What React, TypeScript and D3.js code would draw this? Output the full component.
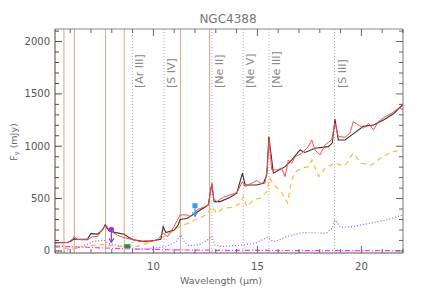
import React from 'react';
import * as d3 from 'd3';

const W = 436;
const H = 291;
const margin = { top: 29, right: 33, bottom: 38, left: 55 };

// model fit (black)
const modelWave = [5.27, 5.87, 6.05, 6.19, 6.4, 6.83, 6.99, 7.31, 7.55, 7.68, 7.87, 8.2, 8.59, 8.8, 9.07, 9.55, 10.03, 10.36, 10.47, 10.6, 11.0, 11.2, 11.28, 11.61, 12.0, 12.4, 12.64, 12.81, 12.92, 13.21, 13.69, 14.01, 14.28, 14.41, 14.97, 15.29, 15.45, 15.55, 15.77, 16.33, 16.65, 17.05, 17.29, 17.77, 18.41, 18.6, 18.73, 18.89, 19.21, 19.62, 20.1, 20.58, 21.06, 21.54, 22.0];
const modelFlux = [80, 80, 95, 115, 112, 112, 165, 160, 200, 248, 190, 175, 160, 130, 105, 89, 100, 112, 232, 175, 200, 250, 300, 309, 360, 408, 440, 640, 471, 471, 513, 551, 742, 630, 630, 647, 726, 1092, 742, 805, 869, 965, 940, 980, 996, 1030, 1260, 1060, 1060, 1120, 1190, 1203, 1250, 1310, 1400];

// observed spectrum (red)
const obsWave = [5.27, 5.87, 6.1, 6.19, 6.35, 6.83, 7.07, 7.31, 7.63, 7.76, 7.87, 8.27, 8.59, 9.07, 9.39, 9.63, 9.87, 10.19, 10.47, 10.68, 10.85, 11.0, 11.28, 11.61, 11.77, 11.93, 12.09, 12.4, 12.64, 12.81, 12.89, 13.05, 13.37, 13.69, 14.01, 14.28, 14.41, 14.97, 15.13, 15.37, 15.48, 15.56, 15.69, 15.93, 16.17, 16.33, 16.49, 16.65, 16.81, 17.13, 17.45, 17.61, 17.77, 18.01, 18.25, 18.57, 18.73, 18.89, 19.21, 19.45, 19.61, 19.85, 20.1, 20.34, 20.58, 20.82, 21.14, 21.46, 21.78, 22.0];
const obsFlux = [74, 80, 110, 137, 108, 105, 137, 137, 232, 239, 200, 150, 127, 105, 89, 98, 89, 105, 169, 137, 190, 235, 344, 344, 328, 344, 392, 417, 439, 647, 503, 471, 513, 535, 557, 662, 615, 672, 647, 647, 800, 1060, 774, 774, 790, 710, 869, 837, 900, 930, 1000, 1060, 965, 917, 1012, 1060, 1220, 1092, 1086, 1124, 1235, 1203, 1172, 1220, 1156, 1235, 1283, 1315, 1363, 1353];

// dust continuum (orange dashed)
const contWave = [5.27, 5.6, 6.0, 6.5, 7.0, 7.5, 8.0, 8.5, 9.0, 9.5, 10.0, 10.5, 10.8, 11.1, 11.4, 11.7, 12.0, 12.4, 12.65, 12.81, 13.05, 13.37, 13.85, 14.17, 14.33, 14.49, 14.81, 15.13, 15.45, 15.61, 15.77, 16.09, 16.45, 16.65, 16.85, 17.1, 17.45, 17.62, 17.95, 18.25, 18.7, 19.2, 19.6, 20.0, 20.5, 21.0, 21.5, 22.0];
const contFlux = [35, 28, 18, 30, 50, 62, 48, 40, 35, 60, 95, 135, 170, 215, 245, 265, 298, 330, 375, 423, 360, 408, 417, 455, 520, 423, 487, 503, 567, 694, 630, 583, 460, 678, 757, 790, 805, 869, 710, 790, 837, 812, 933, 837, 821, 900, 949, 965];

// PAH component (blue dotted)
const pahWave = [5.27, 5.8, 6.2, 6.6, 7.1, 7.6, 7.85, 8.2, 8.8, 9.3, 10.0, 10.6, 11.1, 11.33, 11.5, 11.7, 12.2, 12.6, 12.8, 12.95, 13.3, 13.8, 14.3, 14.9, 15.5, 15.75, 16.0, 16.4, 17.2, 18.3, 18.6, 18.72, 19.0, 19.6, 20.4, 21.2, 22.0];
const pahFlux = [-15, 0, 20, 45, 89, 105, 70, 57, 35, 16, 26, 41, 89, 153, 80, 50, 57, 105, 143, 57, 41, 48, 57, 74, 131, 89, 100, 137, 175, 169, 217, 296, 226, 232, 264, 296, 344];

// stellar component (magenta dash-dot)
const starWave = [5.27, 6, 7, 8, 9, 10, 11, 12, 13, 14, 16, 18, 20, 22];
const starFlux = [45, 40, 33, 25, 18, 14, 10, 8, 6, 5, 4, 3, 2, 2];

const pahLines = [5.7, 6.2, 7.7, 8.6, 11.3, 12.7];
const ionLines = [8.99, 10.51, 12.81, 14.32, 15.56, 18.71];
const ionLabels = ['[Ar III]', '[S IV]', '[Ne II]', '[Ne V]', '[Ne III]', '[S III]'];

// photometry: value with a bar down to the lower value
const photWave = [7.98, 8.75, 12.0];
const photFlux = [205, 45, 432];
const photLow = [82, 45, 330];
const photColor = ['#9933ee', '#229922', '#3399ff'];

const xTicksMajor = [10, 15, 20];
const yTicksMajor = [0, 500, 1000, 1500, 2000];

export default function App() {
  const x = d3.scaleLinear().domain([5.27, 22.0]).range([margin.left, W - margin.right]);
  const y = d3.scaleLinear().domain([-20, 2120]).range([H - margin.bottom, margin.top]);
  const x0 = margin.left, x1 = W - margin.right, y0 = H - margin.bottom, y1 = margin.top;

  const line = (ws: number[], fs: number[]) =>
    d3.line<number>().x((d, i) => x(ws[i])).y(d => y(d))(fs) || '';

  const xMinor = d3.range(6, 23, 1);
  const yMinor = d3.range(0, 2101, 100);
  const font = 'DejaVu Sans, sans-serif';
  const axisCol = '#666';

  return (
    <svg width={W} height={H} style={{ position: 'fixed', left: 0, top: 0, background: '#fff' }}>
      <defs>
        <clipPath id="plot">
          <rect x={x0} y={y1} width={x1 - x0} height={y0 - y1} />
        </clipPath>
      </defs>

      <text x={228} y={23} textAnchor="middle" fontFamily={font} fontSize={12} fill="#777">NGC4388</text>

      {/* feature markers */}
      {pahLines.map(w => (
        <line key={'p' + w} x1={x(w)} x2={x(w)} y1={y1} y2={y0} stroke="#d4a88c" strokeWidth={1} />
      ))}
      {ionLines.map((w, i) => (
        <g key={'i' + w}>
          <line x1={x(w)} x2={x(w)} y1={y1} y2={y0} stroke="#999" strokeWidth={0.8} strokeDasharray="1,2" />
          <text transform={`translate(${x(w) + 11},88) rotate(-90)`} fontFamily={font} fontSize={11} fill="#888">{ionLabels[i]}</text>
        </g>
      ))}

      <g clipPath="url(#plot)" fill="none">
        <path d={line(starWave, starFlux)} stroke="#ff33ff" strokeWidth={1.2} strokeDasharray="5,2,1,2" />
        <path d={line(pahWave, pahFlux)} stroke="#6f6fff" strokeWidth={1.2} strokeDasharray="1,2" />
        <path d={line(contWave, contFlux)} stroke="#ffb838" strokeWidth={1.2} strokeDasharray="5,4" />
        <path d={line(modelWave, modelFlux)} stroke="#333" strokeWidth={1.1} />
        <path d={line(obsWave, obsFlux)} stroke="#ff4a4a" strokeWidth={1} />
      </g>

      {photWave.map((w, i) => {
        const cx = x(w), cy = y(photFlux[i]), ly = y(photLow[i]);
        const c = photColor[i];
        return (
          <g key={'ph' + i}>
            {photLow[i] !== photFlux[i] && (
              <>
                <line x1={cx} x2={cx} y1={cy} y2={ly} stroke={c} strokeWidth={1.2} />
                <path d={`M${cx - 2.5},${ly - 4}L${cx},${ly}L${cx + 2.5},${ly - 4}`} fill="none" stroke={c} strokeWidth={1.2} />
              </>
            )}
            {i === 0 && <circle cx={cx} cy={cy} r={2.6} fill={c} />}
            {i === 1 && <rect x={cx - 3} y={cy - 2} width={6} height={4} fill={c} />}
            {i === 2 && <rect x={cx - 2.5} y={cy - 2.5} width={5} height={5} fill={c} />}
          </g>
        );
      })}

      {/* axes box */}
      <line x1={x0} x2={x1} y1={y1} y2={y1} stroke="#888" />
      <line x1={x0} x2={x1} y1={y0} y2={y0} stroke="#555" />
      <line x1={x1} x2={x1} y1={y1} y2={y0} stroke="#777" />
      <line x1={x0} x2={x0} y1={y1} y2={y0} stroke="#5a4535" />

      {xMinor.map(v => {
        const major = xTicksMajor.includes(v);
        const len = major ? 7 : 4;
        return (
          <g key={'xt' + v}>
            <line x1={x(v)} x2={x(v)} y1={y0} y2={y0 - len} stroke={axisCol} />
            <line x1={x(v)} x2={x(v)} y1={y1} y2={y1 + len} stroke={axisCol} />
          </g>
        );
      })}
      {xTicksMajor.map(v => (
        <text key={'xl' + v} x={x(v)} y={270} textAnchor="middle" fontFamily={font} fontSize={10} fill="#555">{v}</text>
      ))}

      {yMinor.map(v => {
        const major = yTicksMajor.includes(v);
        const len = major ? 7 : 4;
        return (
          <g key={'yt' + v}>
            <line x1={x0} x2={x0 + len} y1={y(v)} y2={y(v)} stroke="#5a4535" />
            <line x1={x1} x2={x1 - len} y1={y(v)} y2={y(v)} stroke={axisCol} />
          </g>
        );
      })}
      {yTicksMajor.map(v => (
        <text key={'yl' + v} x={50} y={y(v) + 3.5} textAnchor="end" fontFamily={font} fontSize={10} fill="#555">{v}</text>
      ))}

      <text x={221} y={284} textAnchor="middle" fontFamily={font} fontSize={9.5} fill="#666">Wavelength (μm)</text>
      <text transform="translate(17,142) rotate(-90)" textAnchor="middle" fontFamily={font} fontSize={9.5} fill="#666">
        F<tspan fontSize={7} dy={2}>ν</tspan><tspan dy={-2}> (mJy)</tspan>
      </text>
    </svg>
  );
}
